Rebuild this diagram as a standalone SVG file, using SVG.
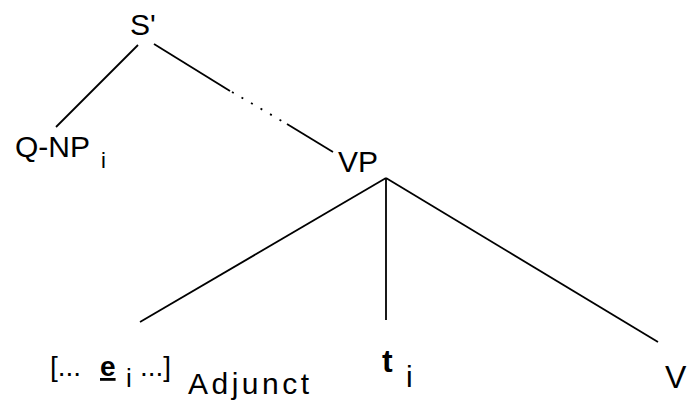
<svg xmlns="http://www.w3.org/2000/svg" width="689" height="401" viewBox="0 0 689 401">
<style>
text{font-family:"Liberation Sans",Arial,sans-serif;fill:#000}
.lbl{font-size:30px}
.sub{font-size:22px}
.edge{stroke:#000;stroke-width:1.8;fill:none}
.dot{stroke-dasharray:2 9}
</style>
<rect width="689" height="401" fill="#fff"/>
<g id="connectors">
<line class="edge" x1="138" y1="45" x2="56" y2="127"/>
<line class="edge" x1="154" y1="44" x2="230" y2="91"/>
<line class="edge dot" x1="232" y1="92" x2="287" y2="124"/>
<line class="edge" x1="287" y1="124" x2="333" y2="152"/>
<line class="edge" x1="386" y1="178" x2="140" y2="322"/>
<line class="edge" x1="386" y1="178" x2="386" y2="320"/>
<line class="edge" x1="386" y1="178" x2="658" y2="342"/>
</g>
<g id="node-S">
<text class="lbl" x="130" y="35">S'</text>
</g>
<g id="node-QNP">
<text class="lbl" x="15" y="157">Q-NP</text>
<text class="sub" x="101" y="168">i</text>
</g>
<g id="node-VP">
<text class="lbl" x="338" y="172">VP</text>
</g>
<g id="node-adjunct">
<text style="font-size:28px" x="50" y="376">[...</text>
<text style="font-size:28px;font-weight:bold;text-decoration:underline" x="100" y="376">e</text>
<text style="font-size:26px" x="126" y="387">i</text>
<text style="font-size:28px" x="140" y="376">...]</text>
<text class="lbl" x="188" y="394" letter-spacing="3.5">Adjunct</text>
</g>
<g id="node-t">
<text style="font-size:32px;font-weight:bold" x="382" y="372">t</text>
<text style="font-size:30px" x="406" y="387">i</text>
</g>
<g id="node-V">
<text style="font-size:32px" x="665" y="388">V</text>
</g>
</svg>
